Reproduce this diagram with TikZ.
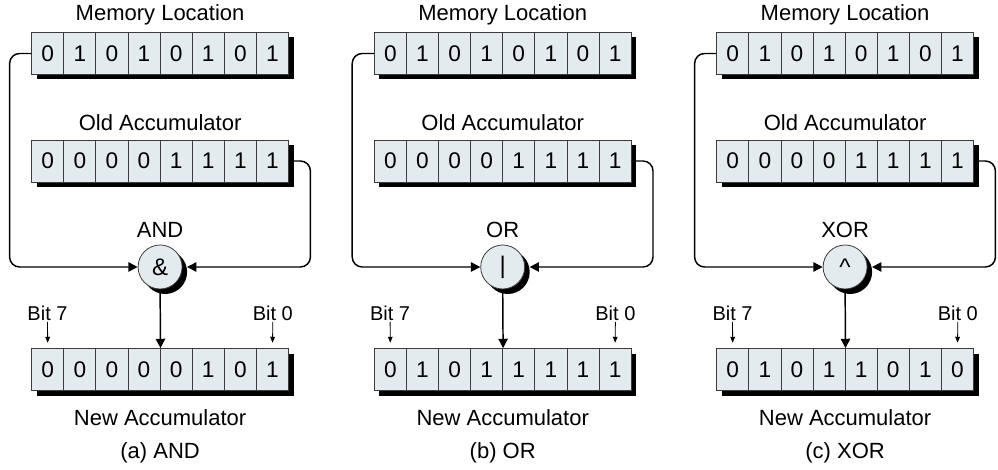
\documentclass[tikz,border=0pt]{standalone}
\usepackage{fontspec}
\setmainfont{Liberation Sans}
\usetikzlibrary{arrows.meta,calc}
\definecolor{cellfill}{RGB}{228,235,239}
\definecolor{celledge}{RGB}{60,60,60}
\begin{document}
\begin{tikzpicture}[x=0.75pt,y=-0.75pt,
  cell/.style={draw=celledge,line width=0.6pt,fill=cellfill,minimum width=24.08pt,minimum height=31.5pt,inner sep=0pt,font=\fontsize{17}{20}\selectfont},
  lbl/.style={font=\fontsize{16.5}{19}\selectfont,inner sep=0pt},
  bitlbl/.style={font=\fontsize{15}{17}\selectfont,inner sep=1pt},
  opnode/.style={circle,draw=celledge,line width=0.6pt,fill=cellfill,minimum size=33pt,inner sep=0pt,font=\fontsize{18}{20}\selectfont},
  conn/.style={line width=1.1pt,rounded corners=7.5pt},
  tip/.style={-{Triangle[length=7pt,width=7pt]}},
  smalltip/.style={-{Triangle[length=4.5pt,width=3.5pt]},line width=0.6pt},
  shadowfill/.style={fill=black}]

\useasboundingbox (0,0) rectangle (998,470);

\foreach \p/\dx/\opname/\sym/\mem/\old/\new in {
  a/0/AND/{\&}/{0,1,0,1,0,1,0,1}/{0,0,0,0,1,1,1,1}/{0,0,0,0,0,1,0,1},
  b/342.6/OR/{|}/{0,1,0,1,0,1,0,1}/{0,0,0,0,1,1,1,1}/{0,1,0,1,1,1,1,1},
  c/685/XOR/{\textasciicircum}/{0,1,0,1,0,1,0,1}/{0,0,0,0,1,1,1,1}/{0,1,0,1,1,0,1,0}}
{
  % shadows
  \fill[shadowfill] ({31.7+\dx+5},{32.5+5}) rectangle ({288.5+\dx+5},{74.5+5});
  \fill[shadowfill] ({31.7+\dx+5},{140+5}) rectangle ({288.5+\dx+5},{182+5});
  \fill[shadowfill] ({31.7+\dx+5},{348.5+5}) rectangle ({288.5+\dx+5},{390.5+5});
  \fill[shadowfill] ({160.1+\dx+5},272) circle[radius=16.5pt];
  % rows
  \foreach \b [count=\i] in \mem {
    \node[cell] (m\p\i) at ({31.7+\dx+32.1*(\i-0.5)},53.5) {\b};
  }
  \foreach \b [count=\i] in \old {
    \node[cell] (o\p\i) at ({31.7+\dx+32.1*(\i-0.5)},161) {\b};
  }
  \foreach \b [count=\i] in \new {
    \node[cell] (n\p\i) at ({31.7+\dx+32.1*(\i-0.5)},369.5) {\b};
  }
  % operator
  \node[opnode] (op\p) at ({160.1+\dx},267) {\sym};
  % labels
  \node[lbl] (ml\p) at ({160.1+\dx},15) {Memory Location};
  \node[lbl] (ol\p) at ({160.1+\dx},123) {Old Accumulator};
  \node[lbl] (opl\p) at ({160.1+\dx},230) {\opname};
  \node[lbl] (nl\p) at ({160.1+\dx},418) {New Accumulator};
  \node[lbl] (cap\p) at ({160.1+\dx},453) {(\p) \opname};
  \node[bitlbl] (bs\p) at ({47.5+\dx},313) {Bit 7};
  \node[bitlbl] (bz\p) at ({272.8+\dx},313) {Bit 0};
  % connectors
  \draw[conn,tip] (m\p1.west) -- ++(-21.7,0) |- (op\p.west);
  \draw[conn,tip] (o\p8.east) -- ++(21.5,0) |- ($(op\p.east)+(4.5,0)$);
  \draw[line width=1.1pt,tip] (op\p.south) -- (n\p4.north east);
  \draw[smalltip,shorten >=4pt] (bs\p.south) -- (n\p1.north);
  \draw[smalltip,shorten >=4pt] (bz\p.south) -- (n\p8.north);
}
\end{tikzpicture}
\end{document}
